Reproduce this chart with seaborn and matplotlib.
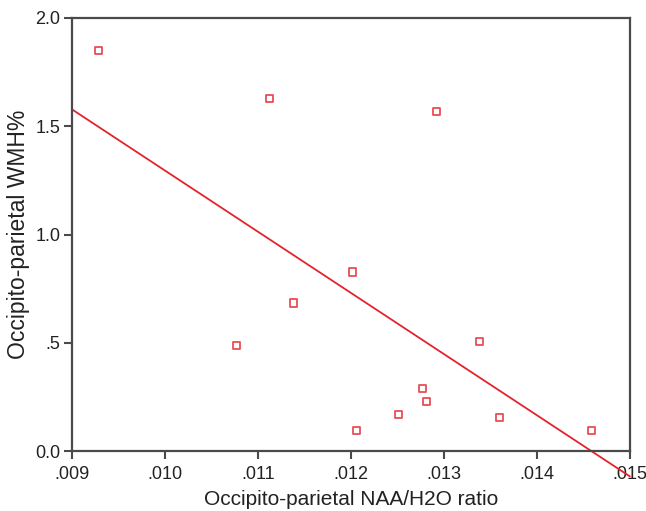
import matplotlib
matplotlib.use("Agg")
import matplotlib.pyplot as plt
import seaborn as sns
import pandas as pd

# === Datos ===
naa_h2o = [0.00929, 0.01113, 0.01292, 0.01077, 0.01138, 0.01202, 0.01338,
           0.01277, 0.01281, 0.01251, 0.01206, 0.01360, 0.01459]
wmh_pct = [1.848, 1.626, 1.566, 0.490, 0.684, 0.827, 0.508,
           0.291, 0.231, 0.171, 0.097, 0.157, 0.097]

x_ticks = [0.009, 0.010, 0.011, 0.012, 0.013, 0.014, 0.015]
x_labels = [".009", ".010", ".011", ".012", ".013", ".014", ".015"]
y_ticks = [0.0, 0.5, 1.0, 1.5, 2.0]
y_labels = ["0.0", ".5", "1.0", "1.5", "2.0"]

df = pd.DataFrame({"naa": naa_h2o, "wmh": wmh_pct})

sns.set_style("white")
plt.rcParams["font.family"] = ["Liberation Sans", "DejaVu Sans"]

RED = "#e3232c"
AXC = "#4a4a4a"

fig = plt.figure(figsize=(6.46, 5.11), dpi=100)
ax = fig.add_axes([0.111, 0.117, 0.864, 0.848])
ax.set_xlim(0.009, 0.015)
ax.set_ylim(0.0, 2.0)

sns.regplot(
    data=df, x="naa", y="wmh", ax=ax, ci=None, truncate=False,
    marker="s",
    scatter_kws={"s": 26, "facecolors": "none", "edgecolors": RED,
                 "linewidths": 1.3, "color": RED},
    line_kws={"color": RED, "linewidth": 1.3, "clip_on": False},
)
ax.set_xlim(0.009, 0.015)
ax.set_ylim(0.0, 2.0)

ax.set_xticks(x_ticks)
ax.set_xticklabels(x_labels)
ax.set_yticks(y_ticks)
ax.set_yticklabels(y_labels)
ax.tick_params(axis="both", which="major", direction="out", length=6,
               width=1.5, color=AXC, labelsize=13, labelcolor="#222222",
               bottom=True, left=True, top=False, right=False)
ax.tick_params(axis="x", pad=5)
ax.tick_params(axis="y", pad=2)

for side in ["left", "right", "top", "bottom"]:
    ax.spines[side].set_visible(True)
    ax.spines[side].set_color(AXC)
    ax.spines[side].set_linewidth(1.6)

ax.set_xlabel("Occipito-parietal NAA/H2O ratio", fontsize=15,
              color="#222222", labelpad=5)
ax.set_ylabel("Occipito-parietal WMH%", fontsize=16.5,
              color="#222222", labelpad=4)

fig.savefig("out.png", dpi=100)
plt.close(fig)
